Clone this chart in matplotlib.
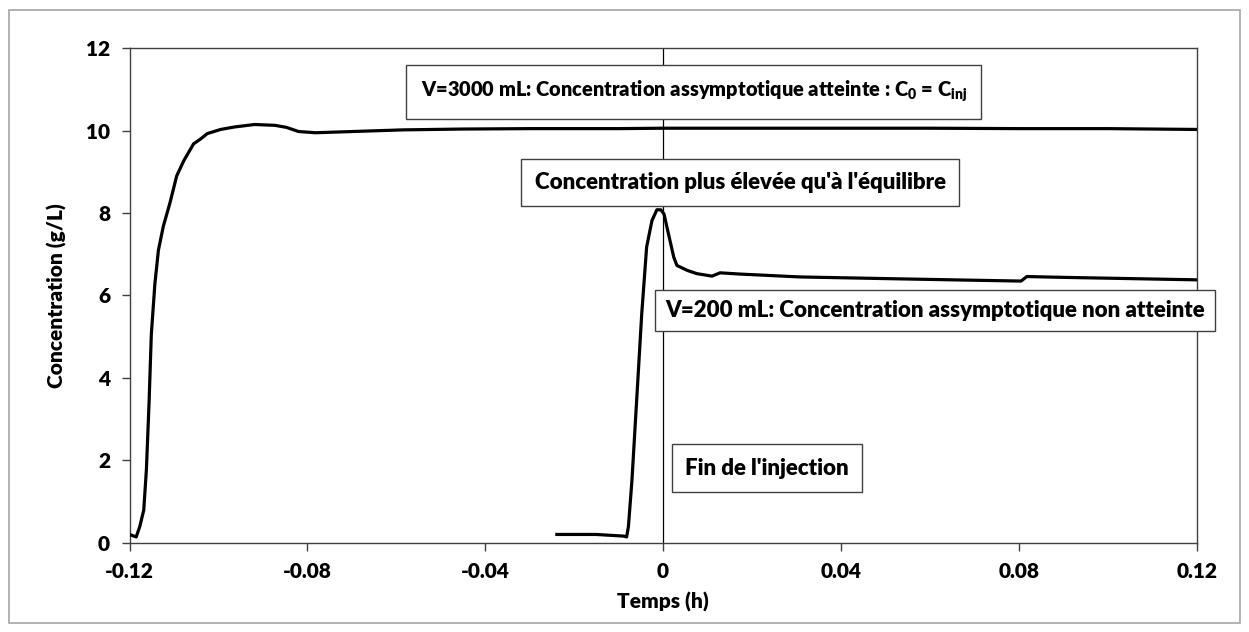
import matplotlib
matplotlib.use("Agg")
import matplotlib.pyplot as plt
from matplotlib.patches import Rectangle

plt.rcParams['font.family'] = ['Lato', 'DejaVu Sans']
plt.rcParams['font.weight'] = 'heavy'
plt.rcParams['mathtext.fontset'] = 'custom'
plt.rcParams['mathtext.rm'] = 'Lato:heavy'
plt.rcParams['mathtext.it'] = 'Lato:heavy'
plt.rcParams['mathtext.bf'] = 'Lato:heavy'

# V = 3000 mL series
x3000 = [-0.1200, -0.1185, -0.1177, -0.1168, -0.1162, -0.1156, -0.1151, -0.1143,
         -0.1135, -0.1124, -0.1109, -0.1094, -0.1078, -0.1056, -0.1040, -0.1025,
         -0.0995, -0.0964, -0.0919, -0.0873, -0.0847, -0.0820, -0.0782, -0.0698,
         -0.0584, -0.0450, -0.0300, -0.0100, 0.0000, 0.0200, 0.0400, 0.0600,
         0.0800, 0.1000, 0.1200]
y3000 = [0.20, 0.14, 0.39, 0.79, 1.78, 3.42, 5.05, 6.28,
         7.10, 7.68, 8.25, 8.90, 9.27, 9.68, 9.80, 9.93,
         10.03, 10.09, 10.15, 10.13, 10.08, 9.98, 9.95, 9.98,
         10.02, 10.04, 10.05, 10.05, 10.06, 10.06, 10.06, 10.06,
         10.05, 10.05, 10.03]

# V = 200 mL series
x200 = [-0.0239, -0.0150, -0.0089, -0.0082, -0.0078, -0.0070, -0.0059, -0.0048,
        -0.0037, -0.0025, -0.0014, -0.0005, 0.0002, 0.0012, 0.0024, 0.0031,
        0.0054, 0.0076, 0.0110, 0.0128, 0.0173, 0.0308, 0.0500, 0.0700,
        0.0805, 0.0818, 0.0900, 0.1000, 0.1100, 0.1200]
y200 = [0.20, 0.20, 0.16, 0.14, 0.39, 1.52, 3.54, 5.56,
        7.18, 7.82, 8.08, 8.08, 7.98, 7.50, 6.93, 6.73,
        6.61, 6.53, 6.47, 6.55, 6.52, 6.45, 6.41, 6.37,
        6.35, 6.46, 6.44, 6.42, 6.40, 6.38]

xticks = [-0.12, -0.08, -0.04, 0, 0.04, 0.08, 0.12]
xticklabels = ['-0.12', '-0.08', '-0.04', '0', '0.04', '0.08', '0.12']
yticks = [0, 2, 4, 6, 8, 10, 12]

annotations = [
    (0.0069, 10.95, "V=3000 mL: Concentration assymptotique atteinte : C$_0$ = C$_{inj}$", 14.4, 0.72),
    (0.0173, 8.74, "Concentration plus élevée qu'à l'équilibre", 16, 0.6),
    (0.0612, 5.64, "V=200 mL: Concentration assymptotique non atteinte", 16, 0.45),
    (0.0234, 1.81, "Fin de l'injection", 16, 0.6),
]

fig = plt.figure(figsize=(12.49, 6.32), dpi=100)
ax = fig.add_axes([0.1037, 0.1413, 0.8544, 0.7823])

ax.plot(x3000, y3000, color='black', lw=2.3, solid_joinstyle='round', zorder=3)
ax.plot(x200, y200, color='black', lw=2.3, solid_joinstyle='round', zorder=3)
ax.axvline(0, color='black', lw=0.9, zorder=2)

ax.set_xlim(-0.12, 0.12)
ax.set_ylim(0, 12)
ax.set_xticks(xticks)
ax.set_xticklabels(xticklabels)
ax.set_yticks(yticks)
ax.tick_params(axis='both', direction='out', length=6, width=1, color='#404040',
               labelsize=15, pad=8)
for lab in ax.get_xticklabels() + ax.get_yticklabels():
    lab.set_fontweight('heavy')
for s in ax.spines.values():
    s.set_color('#404040')
    s.set_linewidth(1)

ax.set_xlabel('Temps (h)', fontsize=15, fontweight='heavy', labelpad=8)
ax.set_ylabel('Concentration (g/L)', fontsize=15, fontweight='heavy', labelpad=14)

for x, y, t, fs, pad in annotations:
    ax.text(x, y, t, ha='center', va='center', fontsize=fs, fontweight='heavy',
            zorder=5,
            bbox=dict(boxstyle='square,pad=%.2f' % pad, facecolor='white',
                      edgecolor='#404040', linewidth=1))

fig.patches.append(Rectangle((9 / 1249, 1 - 623 / 632), 1231 / 1249, 613 / 632,
                             transform=fig.transFigure, fill=False,
                             edgecolor='#a6a6a6', linewidth=1.2))

fig.savefig('out.png', dpi=100)
